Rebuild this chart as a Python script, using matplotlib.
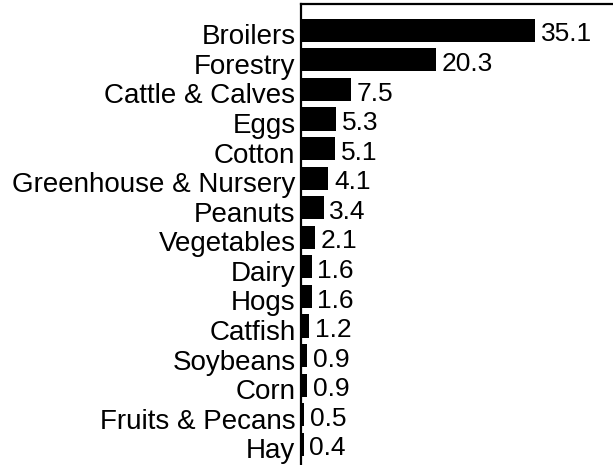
import matplotlib
matplotlib.use("Agg")
import matplotlib.pyplot as plt
import matplotlib.transforms as mtransforms

categories = ["Broilers", "Forestry", "Cattle & Calves", "Eggs", "Cotton",
              "Greenhouse & Nursery", "Peanuts", "Vegetables", "Dairy", "Hogs",
              "Catfish", "Soybeans", "Corn", "Fruits & Pecans", "Hay"]
values = [35.1, 20.3, 7.5, 5.3, 5.1, 4.1, 3.4, 2.1, 1.6, 1.6, 1.2, 0.9, 0.9, 0.5, 0.4]
value_labels = ["35.1", "20.3", "7.5", "5.3", "5.1", "4.1", "3.4", "2.1", "1.6",
                "1.6", "1.2", "0.9", "0.9", "0.5", "0.4"]

plt.rcParams['font.family'] = ['Liberation Sans', 'DejaVu Sans']
fig = plt.figure(figsize=(6.13, 4.65), dpi=100)
ax = fig.add_axes([301/613, 0.0, 1 - 301/613, 1 - 4/465])

y = list(range(len(categories)))
ax.barh(y, values, height=0.78, color="black")
ax.set_ylim(14.7, -0.89)
ax.set_xlim(0, 46.8)
ax.set_yticks(y)
ax.set_yticklabels(categories, fontsize=20)
ax.tick_params(axis='y', length=0, pad=4)
ax.set_xticks([])
shift = mtransforms.ScaledTranslation(0, -4/100, fig.dpi_scale_trans)
for lbl in ax.get_yticklabels():
    lbl.set_transform(lbl.get_transform() + shift)
for yi, v, lab in zip(y, values, value_labels):
    ax.annotate(lab, (v, yi), xytext=(4, -3), textcoords='offset points',
                va='center', ha='left', fontsize=19)
for s in ['right', 'bottom']:
    ax.spines[s].set_visible(False)
ax.spines['left'].set_linewidth(1.6)
ax.spines['top'].set_linewidth(1.6)
fig.savefig("out.png", dpi=100)
